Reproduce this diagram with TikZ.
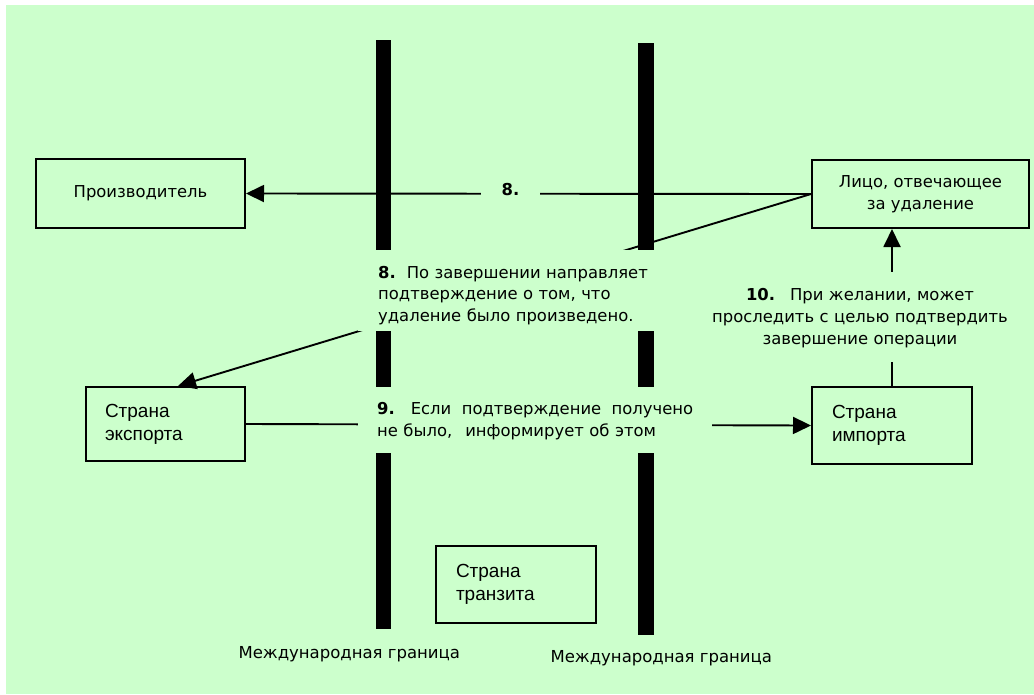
\documentclass[tikz,border=0pt]{standalone}
\usepackage{fontspec}
\setmainfont{DejaVu Sans}
\newfontfamily\boxfont{Liberation Sans}
\usetikzlibrary{arrows.meta,calc}
\definecolor{bg}{HTML}{CCFFCC}

\begin{document}
\begin{tikzpicture}[x=1pt,y=-1pt,
  every node/.style={font=\fontsize{16.4}{22}\selectfont},
  box/.style={draw, line width=2pt, fill=bg, inner sep=0pt},
  country/.style={box, font=\boxfont\fontsize{19}{23}\selectfont, align=left,
                  text width=120pt, inner xsep=20pt, minimum height=77pt},
  note/.style={fill=bg, inner ysep=0pt},
  conn/.style={line width=1.9pt},
  tip/.style={-{Triangle[length=18pt,width=17pt]}},
  border label/.style={anchor=base west, font=\fontsize{16.5}{20}\selectfont}
]
\useasboundingbox (0,0) rectangle (1034,694);
\fill[bg] (6,5) rectangle (1034,694);

% two international borders
\fill (376,40) rectangle (391,629);
\fill (638,43) rectangle (654,635);

% parties and countries
\node[box, minimum width=209pt, minimum height=69pt] (prod) at (140.5,193.5) {Производитель};
\node[box, minimum width=217pt, minimum height=68pt, align=center] (resp) at (920.5,194)
  {Лицо, отвечающее\\за удаление};
\node[country, text width=121pt, inner xsep=19pt, minimum height=74pt] (exp) at (165.5,424)
  {Страна\\экспорта};
\node[country] (imp) at (892,425.5) {Страна\\импорта};
\node[country] (tran) at (516,584.5) {Страна\\транзита};

% flows
\draw[conn, tip] (resp.west) -- node[pos=0.532, yshift=4pt, fill=bg, inner sep=0pt,
  minimum width=59pt, minimum height=20pt, font=\fontsize{16.4}{22}\selectfont\bfseries] (l8) {8.} (prod.east);
\draw[conn, tip] (resp.west) -- ([xshift=12.5pt]exp.north);
\draw[conn, tip] (exp.east) -- (imp.west);
\draw[conn, tip] (imp.north) -- (imp.north |- resp.south);

% step descriptions
\node[note, anchor=north west, inner xsep=20pt, text width=302pt, align=left,
      font=\fontsize{16.4}{21.5}\selectfont] (n8) at (358,250)
  {\rule{0pt}{28pt}\textbf{8.}\hspace{11pt}По завершении направляет\\
   подтверждение о том, что\\
   удаление было произведено.\rule[-10pt]{0pt}{10pt}};

\node[note, anchor=north west, inner xsep=19pt, text width=316pt, align=left] (n9) at (358,387)
  {\hbox to \hsize{\rule{0pt}{27pt}\textbf{9.}\hspace{16pt}Если\hfill подтверждение\hfill получено}\\
   не было,\hspace{13pt}информирует об этом\rule[-17pt]{0pt}{17pt}};

\node[note, anchor=north, inner xsep=2pt, text width=304pt, align=center] (n10) at (860,272)
  {\rule{0pt}{28pt}\textbf{10.}\hspace{15pt}При желании, может\\
   проследить с целью подтвердить\\
   завершение операции\rule[-18pt]{0pt}{18pt}};

% border captions
\node[border label] (bl1) at (235,658) {Международная граница};
\node[border label] (bl2) at (547,662.5) {Международная граница};
\end{tikzpicture}
\end{document}
